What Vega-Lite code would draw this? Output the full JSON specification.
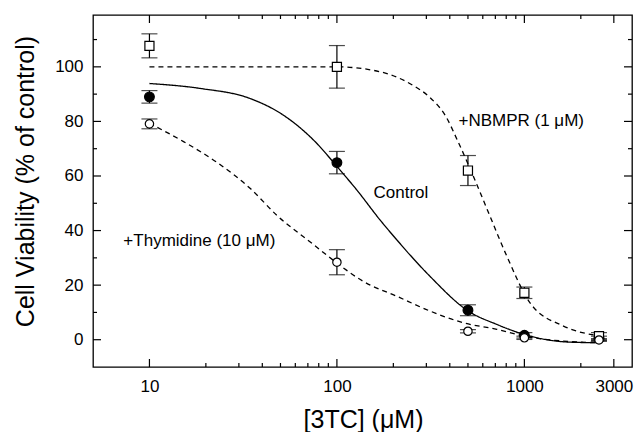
{
  "$schema": "https://vega.github.io/schema/vega-lite/v6.json",
  "width": 539,
  "height": 352,
  "autosize": "none",
  "padding": {"left": 93, "top": 15, "right": 4, "bottom": 65},
  "background": "white",
  "config": {
    "view": {"stroke": "black", "strokeWidth": 1.3},
    "font": "Liberation Sans",
    "axis": {
      "grid": false, "domain": false, "ticks": false, "labelColor": "black", "titleColor": "black",
      "labelFont": "Liberation Sans", "titleFont": "Liberation Sans", "labelFontSize": 17, "titleFontSize": 25,
      "titleFontWeight": "normal", "labelOverlap": false, "labelFlush": false
    }
  },
  "datasets": {
    "curves": [
      {"series": "Control", "conc": 10, "v": 93.9}, {"series": "Control", "conc": 18.6, "v": 92.1}, {"series": "Control", "conc": 34.4, "v": 88.4},
      {"series": "Control", "conc": 51.8, "v": 82.3}, {"series": "Control", "conc": 78, "v": 72.0}, {"series": "Control", "conc": 100, "v": 63.5},
      {"series": "Control", "conc": 127.6, "v": 54.9}, {"series": "Control", "conc": 169.8, "v": 43.9}, {"series": "Control", "conc": 208.7, "v": 36.6},
      {"series": "Control", "conc": 314, "v": 23.2}, {"series": "Control", "conc": 502, "v": 10.5}, {"series": "Control", "conc": 713, "v": 5.6},
      {"series": "Control", "conc": 1000, "v": 1.9}, {"series": "Control", "conc": 1754, "v": -0.9}, {"series": "Control", "conc": 2450, "v": -1.1},
      {"series": "Thymidine", "conc": 10, "v": 79.3}, {"series": "Thymidine", "conc": 15.2, "v": 72.6}, {"series": "Thymidine", "conc": 22.9, "v": 65.0},
      {"series": "Thymidine", "conc": 34.4, "v": 55.5}, {"series": "Thymidine", "conc": 48, "v": 45.5}, {"series": "Thymidine", "conc": 74, "v": 35.2},
      {"series": "Thymidine", "conc": 100, "v": 28.1}, {"series": "Thymidine", "conc": 138, "v": 21.4}, {"series": "Thymidine", "conc": 209, "v": 15.9},
      {"series": "Thymidine", "conc": 314, "v": 10.5}, {"series": "Thymidine", "conc": 473, "v": 6.2}, {"series": "Thymidine", "conc": 713, "v": 3.8},
      {"series": "Thymidine", "conc": 1000, "v": 1.3}, {"series": "Thymidine", "conc": 1600, "v": -0.5}, {"series": "Thymidine", "conc": 2450, "v": -1.1},
      {"series": "NBMPR", "conc": 10, "v": 100}, {"series": "NBMPR", "conc": 100, "v": 100}, {"series": "NBMPR", "conc": 170, "v": 98.2},
      {"series": "NBMPR", "conc": 253, "v": 93.3}, {"series": "NBMPR", "conc": 311, "v": 89}, {"series": "NBMPR", "conc": 382, "v": 81.7},
      {"series": "NBMPR", "conc": 440, "v": 73}, {"series": "NBMPR", "conc": 535, "v": 59.8}, {"series": "NBMPR", "conc": 656, "v": 45.2},
      {"series": "NBMPR", "conc": 806, "v": 30.6}, {"series": "NBMPR", "conc": 1072, "v": 13.5}, {"series": "NBMPR", "conc": 1616, "v": 5.0},
      {"series": "NBMPR", "conc": 2450, "v": 1.5}
    ],
    "points": [
      {"series": "Control", "conc": 10, "v": 89.0, "err": 2.3},
      {"series": "Control", "conc": 100, "v": 64.9, "err": 4.1},
      {"series": "Control", "conc": 500, "v": 10.8, "err": 2.0},
      {"series": "Control", "conc": 1000, "v": 1.6, "err": 1.0},
      {"series": "Control", "conc": 2500, "v": 0.5, "err": 0.8},
      {"series": "NBMPR", "conc": 10, "v": 107.7, "err": 4.4},
      {"series": "NBMPR", "conc": 100, "v": 100.0, "err": 7.8},
      {"series": "NBMPR", "conc": 500, "v": 62.0, "err": 5.5},
      {"series": "NBMPR", "conc": 1000, "v": 17.2, "err": 2.1},
      {"series": "NBMPR", "conc": 2500, "v": 1.3, "err": 1.3},
      {"series": "Thymidine", "conc": 10, "v": 79.1, "err": 1.8},
      {"series": "Thymidine", "conc": 100, "v": 28.4, "err": 4.6},
      {"series": "Thymidine", "conc": 500, "v": 3.1, "err": 0.6},
      {"series": "Thymidine", "conc": 1000, "v": 0.7, "err": 0.6},
      {"series": "Thymidine", "conc": 2500, "v": -0.1, "err": 0.5}
    ],
    "labels": [
      {"text": "+NBMPR (1 μM)", "conc": 445, "v": 80.1},
      {"text": "Control", "conc": 156.7, "v": 53.8},
      {"text": "+Thymidine (10 μM)", "conc": 7.26, "v": 36.1}
    ],
    "xticks": [
      {"value": 10, "kind": "major"}, {"value": 100, "kind": "major"}, {"value": 1000, "kind": "major"}, {"value": 3000, "kind": "major"},
      {"value": 20, "kind": "minor"}, {"value": 30, "kind": "minor"}, {"value": 40, "kind": "minor"}, {"value": 50, "kind": "minor"},
      {"value": 60, "kind": "minor"}, {"value": 70, "kind": "minor"}, {"value": 80, "kind": "minor"}, {"value": 90, "kind": "minor"},
      {"value": 200, "kind": "minor"}, {"value": 300, "kind": "minor"}, {"value": 400, "kind": "minor"}, {"value": 500, "kind": "minor"},
      {"value": 600, "kind": "minor"}, {"value": 700, "kind": "minor"}, {"value": 800, "kind": "minor"}, {"value": 900, "kind": "minor"},
      {"value": 2000, "kind": "minor"}
    ],
    "yticks": [
      {"value": 0, "kind": "major"}, {"value": 20, "kind": "major"}, {"value": 40, "kind": "major"}, {"value": 60, "kind": "major"},
      {"value": 80, "kind": "major"}, {"value": 100, "kind": "major"},
      {"value": 10, "kind": "minor"}, {"value": 30, "kind": "minor"}, {"value": 50, "kind": "minor"}, {"value": 70, "kind": "minor"},
      {"value": 90, "kind": "minor"}, {"value": 110, "kind": "minor"}
    ]
  },
  "layer": [
    {
      "data": {"name": "curves"},
      "mark": {"type": "line", "color": "black", "strokeWidth": 1.3, "interpolate": "monotone"},
      "encoding": {
        "x": {
          "field": "conc", "type": "quantitative",
          "scale": {"type": "log", "domain": [5, 3750], "nice": false},
          "axis": {
            "orient": "bottom", "title": "[3TC]  (μM)",
            "values": [10, 100, 1000, 3000], "format": "d",
            "labelPadding": 11,
            "titleX": 270, "titleY": 60, "titleBaseline": "alphabetic", "titleAlign": "center", "titleAnchor": null
          }
        },
        "y": {
          "field": "v", "type": "quantitative",
          "scale": {"domain": [-10, 119], "nice": false, "zero": false},
          "axis": {
            "orient": "left", "title": "Cell Viability (% of control)",
            "values": [0, 20, 40, 60, 80, 100],
            "labelPadding": 10,
            "titleX": -68, "titleY": 166, "titleAngle": -90, "titleBaseline": "middle", "titleAlign": "center", "titleAnchor": null
          }
        },
        "detail": {"field": "series"},
        "strokeDash": {
          "field": "series", "type": "nominal",
          "scale": {"domain": ["Control", "Thymidine", "NBMPR"], "range": [[1, 0], [5, 4], [5, 4]]},
          "legend": null
        }
      }
    },
    {
      "data": {"name": "xticks"},
      "transform": [{"filter": "datum.kind == 'major'"}],
      "mark": {"type": "tick", "orient": "vertical", "size": 8, "thickness": 1.2, "color": "black", "opacity": 1, "yOffset": -4},
      "encoding": {"x": {"field": "value", "type": "quantitative", "axis": null}, "y": {"datum": -10, "type": "quantitative", "axis": null}}
    },
    {
      "data": {"name": "xticks"},
      "transform": [{"filter": "datum.kind == 'minor'"}],
      "mark": {"type": "tick", "orient": "vertical", "size": 4, "thickness": 1.2, "color": "black", "opacity": 1, "yOffset": -2},
      "encoding": {"x": {"field": "value", "type": "quantitative", "axis": null}, "y": {"datum": -10, "type": "quantitative", "axis": null}}
    },
    {
      "data": {"name": "xticks"},
      "transform": [{"filter": "datum.kind == 'major'"}],
      "mark": {"type": "tick", "orient": "vertical", "size": 8, "thickness": 1.2, "color": "black", "opacity": 1, "yOffset": 4},
      "encoding": {"x": {"field": "value", "type": "quantitative", "axis": null}, "y": {"datum": 119, "type": "quantitative", "axis": null}}
    },
    {
      "data": {"name": "xticks"},
      "transform": [{"filter": "datum.kind == 'minor'"}],
      "mark": {"type": "tick", "orient": "vertical", "size": 4, "thickness": 1.2, "color": "black", "opacity": 1, "yOffset": 2},
      "encoding": {"x": {"field": "value", "type": "quantitative", "axis": null}, "y": {"datum": 119, "type": "quantitative", "axis": null}}
    },
    {
      "data": {"name": "yticks"},
      "transform": [{"filter": "datum.kind == 'major'"}],
      "mark": {"type": "tick", "orient": "horizontal", "size": 8, "thickness": 1.2, "color": "black", "opacity": 1, "xOffset": 4},
      "encoding": {"y": {"field": "value", "type": "quantitative", "axis": null}, "x": {"datum": 5, "type": "quantitative", "axis": null}}
    },
    {
      "data": {"name": "yticks"},
      "transform": [{"filter": "datum.kind == 'minor'"}],
      "mark": {"type": "tick", "orient": "horizontal", "size": 4, "thickness": 1.2, "color": "black", "opacity": 1, "xOffset": 2},
      "encoding": {"y": {"field": "value", "type": "quantitative", "axis": null}, "x": {"datum": 5, "type": "quantitative", "axis": null}}
    },
    {
      "data": {"name": "yticks"},
      "transform": [{"filter": "datum.kind == 'major'"}],
      "mark": {"type": "tick", "orient": "horizontal", "size": 8, "thickness": 1.2, "color": "black", "opacity": 1, "xOffset": -4},
      "encoding": {"y": {"field": "value", "type": "quantitative", "axis": null}, "x": {"datum": 3750, "type": "quantitative", "axis": null}}
    },
    {
      "data": {"name": "yticks"},
      "transform": [{"filter": "datum.kind == 'minor'"}],
      "mark": {"type": "tick", "orient": "horizontal", "size": 4, "thickness": 1.2, "color": "black", "opacity": 1, "xOffset": -2},
      "encoding": {"y": {"field": "value", "type": "quantitative", "axis": null}, "x": {"datum": 3750, "type": "quantitative", "axis": null}}
    },
    {
      "data": {"name": "points"},
      "mark": {"type": "errorbar", "ticks": {"color": "black", "size": 16, "thickness": 1.2}, "rule": {"color": "black", "strokeWidth": 1.2}},
      "encoding": {
        "x": {"field": "conc", "type": "quantitative", "axis": null},
        "y": {"field": "v", "type": "quantitative", "axis": null},
        "yError": {"field": "err"},
        "detail": {"field": "series"}
      }
    },
    {
      "data": {"name": "points"},
      "mark": {"type": "point", "stroke": "black", "strokeWidth": 1.2, "opacity": 1},
      "encoding": {
        "x": {"field": "conc", "type": "quantitative", "axis": null},
        "y": {"field": "v", "type": "quantitative", "axis": null},
        "shape": {"field": "series", "type": "nominal", "scale": {"domain": ["Control", "NBMPR", "Thymidine"], "range": ["circle", "square", "circle"]}, "legend": null},
        "fill": {"field": "series", "type": "nominal", "scale": {"domain": ["Control", "NBMPR", "Thymidine"], "range": ["black", "white", "white"]}, "legend": null},
        "size": {"field": "series", "type": "nominal", "scale": {"domain": ["Control", "NBMPR", "Thymidine"], "range": [95, 70, 95]}, "legend": null}
      }
    },
    {
      "data": {"name": "labels"},
      "mark": {"type": "text", "align": "left", "baseline": "middle", "fontSize": 17, "font": "Liberation Sans", "color": "black"},
      "encoding": {
        "x": {"field": "conc", "type": "quantitative", "axis": null},
        "y": {"field": "v", "type": "quantitative", "axis": null},
        "text": {"field": "text"}
      }
    }
  ],
  "resolve": {"axis": {"x": "independent", "y": "independent"}}
}
